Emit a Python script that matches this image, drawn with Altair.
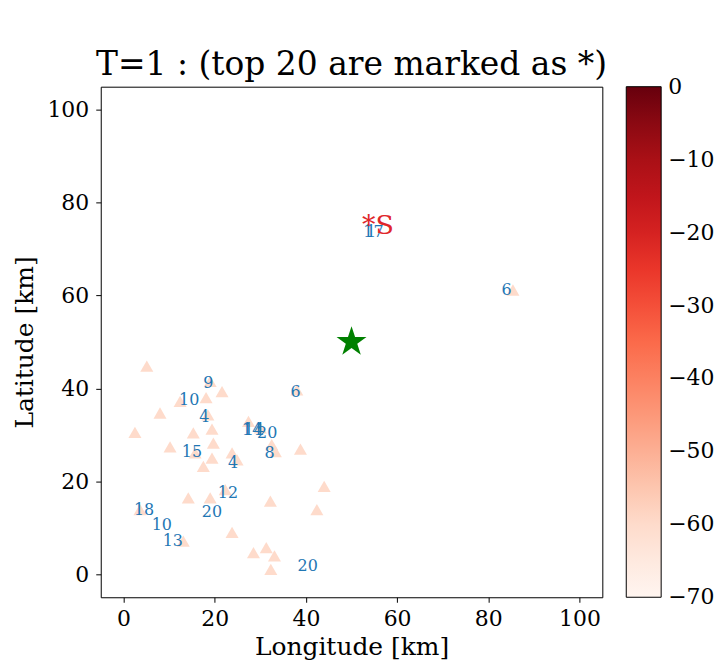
import altair as alt
import pandas as pd

# --- data ---
tri_lon = [5.1, 19.0, 21.6, 18.1, 12.4, 8.0, 18.5, 2.5, 15.3, 19.4,
           19.7, 10.2, 15.7, 19.4, 17.5, 23.8, 24.9, 27.4, 30.0, 32.5,
           33.3, 38.8, 38.0, 44.0, 42.4, 32.2, 22.3, 19.0, 14.2, 23.8,
           13.1, 3.6, 28.5, 31.3, 33.1, 32.3, 85.4]
tri_lat = [44.8, 41.5, 39.3, 38.0, 37.2, 34.7, 34.3, 30.5, 30.4, 31.2,
           28.2, 27.4, 26.1, 25.0, 23.2, 26.1, 24.6, 32.9, 31.5, 27.9,
           26.4, 26.9, 39.7, 18.9, 13.9, 15.7, 18.2, 16.4, 16.4, 9.0,
           7.1, 13.9, 4.6, 5.7, 3.9, 1.0, 61.2]
tri_val = [-60] * len(tri_lon)

lab_text = ["9", "10", "4", "14", "14", "20", "6", "15", "8", "4",
            "12", "18", "20", "10", "13", "20", "6", "17", "1"]
lab_lon = [18.6, 14.4, 17.7, 28.2, 28.6, 31.5, 37.7, 15.0, 32.0, 24.0,
           22.9, 4.5, 19.4, 8.4, 10.8, 40.4, 84.0, 54.8, 54.3]
lab_lat = [41.2, 37.4, 33.8, 31.1, 31.0, 30.4, 39.3, 26.2, 26.1, 23.9,
           17.5, 13.9, 13.3, 10.5, 7.1, 1.7, 61.2, 73.6, 73.8]

star_lon = [50.0]
star_lat = [50.0]

src_lon = [55.8]
src_lat = [74.9]
src_text = ["*S"]

axis_ticks = [0, 20, 40, 60, 80, 100]
cbar_ticks = [-70, -60, -50, -40, -30, -20, -10, 0]

# ColorBrewer "Reds" (as in matplotlib), spread over the colour bar range
reds_colors = ["#fff5f0", "#fee0d2", "#fcbba1", "#fc9272", "#fb6a4a",
               "#ef3b2c", "#cb181d", "#a50f15", "#67000d"]
reds_domain = [-70.03, -61.25, -52.5, -43.75, -35, -26.25, -17.5, -8.75, 0.03]

FONT = "DejaVu Serif"
STAR = ("M0,-1L0.225,-0.309L0.951,-0.309L0.363,0.118L0.588,0.809L0,0.382"
        "L-0.588,0.809L-0.363,0.118L-0.951,-0.309L-0.225,-0.309Z")

tri_df = pd.DataFrame({"lon": tri_lon, "lat": tri_lat, "v": tri_val})
lab_df = pd.DataFrame({"lon": lab_lon, "lat": lab_lat, "t": lab_text})
star_df = pd.DataFrame({"lon": star_lon, "lat": star_lat})
src_df = pd.DataFrame({"lon": src_lon, "lat": src_lat, "t": src_text})

xs = alt.Scale(domain=[-5, 105], nice=False, zero=False)
ys = alt.Scale(domain=[-5, 105], nice=False, zero=False)

xax = alt.Axis(values=axis_ticks, title="Longitude [km]", grid=False, domain=False, orient="bottom",
               tickSize=5, labelPadding=6, titlePadding=5)
yax = alt.Axis(values=axis_ticks, title="Latitude [km]", grid=False, domain=False, orient="left",
               tickSize=5, labelPadding=7, titlePadding=9)

tri = alt.Chart(tri_df).mark_point(shape="triangle-up", filled=True, size=170, opacity=1).encode(
    x=alt.X("lon:Q", scale=xs, axis=xax),
    y=alt.Y("lat:Q", scale=ys, axis=yax),
    color=alt.Color("v:Q", title=None,
                    scale=alt.Scale(domain=reds_domain, range=reds_colors, interpolate="rgb"),
                    legend=alt.Legend(values=cbar_ticks, orient="none", legendX=527, legendY=0,
                                      direction="vertical", gradientLength=512,
                                      gradientThickness=35, gradientStrokeColor="black",
                                      gradientStrokeWidth=1, labelFontSize=22, labelFont=FONT,
                                      labelColor="black", labelOffset=7,
                                      labelOverlap=False)),
)

labels = alt.Chart(lab_df).mark_text(font=FONT, fontSize=16, color="#1f77b4").encode(
    x=alt.X("lon:Q", scale=xs), y=alt.Y("lat:Q", scale=ys), text="t:N"
)

star = alt.Chart(star_df).mark_point(shape=STAR, filled=True, size=1000, color="#008000", opacity=1).encode(
    x=alt.X("lon:Q", scale=xs), y=alt.Y("lat:Q", scale=ys)
)

src = alt.Chart(src_df).mark_text(font=FONT, fontSize=27, color="#e0262a").encode(
    x=alt.X("lon:Q", scale=xs), y=alt.Y("lat:Q", scale=ys), text="t:N"
)

chart = alt.layer(tri, labels, star, src).properties(
    width=503, height=512,
    background="white",
    title=alt.TitleParams("T=1 : (top 20 are marked as *)", font=FONT, fontSize=33,
                          fontWeight="normal", color="black", anchor="middle", offset=5),
    autosize=alt.AutoSizeParams(type="none"),
    padding={"left": 93, "top": 78, "right": 116, "bottom": 66},
).configure_view(
    stroke="black", strokeWidth=1
).configure_axis(
    labelFont=FONT, labelFontSize=22, labelColor="black",
    titleFont=FONT, titleFontSize=25, titleFontWeight="normal", titleColor="black",
    tickColor="black"
)

chart.save("out.html", embed_options={"renderer": "svg", "actions": False})
